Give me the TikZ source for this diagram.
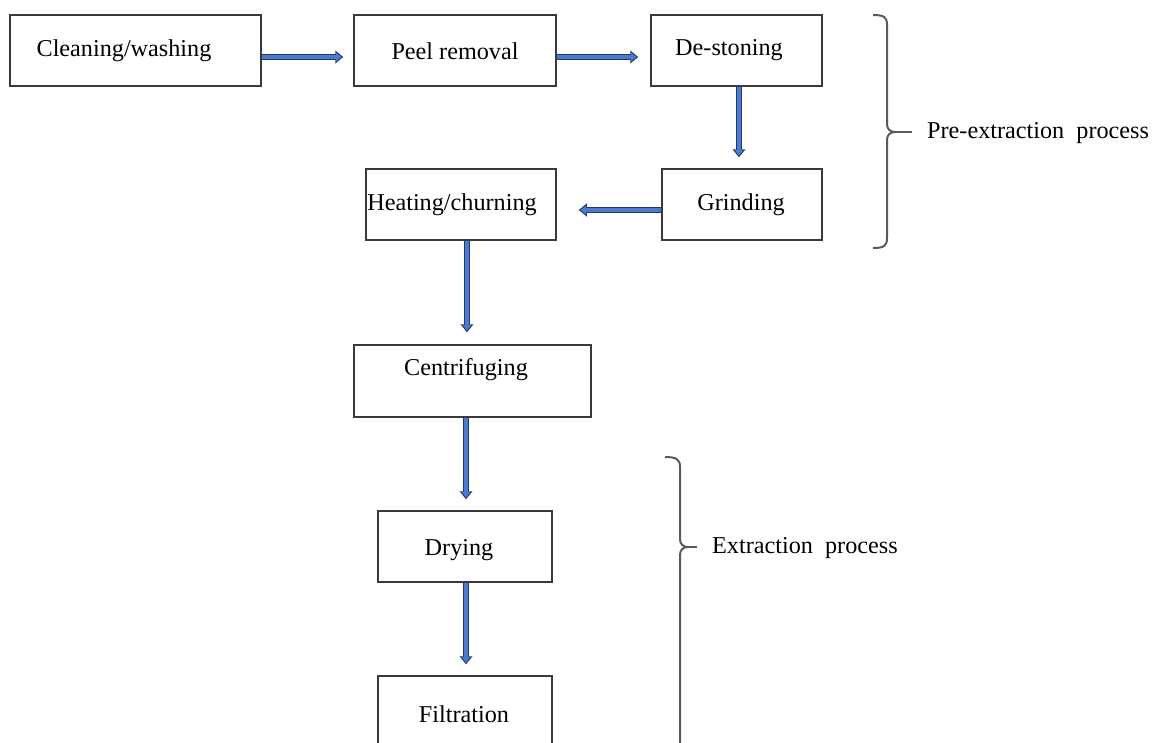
\documentclass[tikz,border=0pt]{standalone}
\usepackage{fontspec}
\setmainfont{Liberation Serif}
\usetikzlibrary{arrows.meta}
\definecolor{boxline}{HTML}{3A3A3A}
\definecolor{arrblue}{HTML}{4A7BD0}
\definecolor{arrdark}{HTML}{22386A}
\definecolor{bracecol}{HTML}{5A5A5A}
\newcommand\flowarr[2]{%
  \draw[line width=5.6pt, arrdark, -{Triangle[length=8pt,width=12.5pt]}] #1 -- #2;
  \draw[line width=3.4pt, arrblue, shorten >=1.6pt, -{Triangle[length=5.8pt,width=8.5pt]}] #1 -- #2;
}
\begin{document}
\begin{tikzpicture}[x=1pt,y=-1pt,
  box/.style={draw=boxline, line width=1.5pt, minimum height=71pt, inner sep=0pt, fill=white},
  txt/.style={inner sep=0pt, font=\fontsize{24.2}{29}\selectfont},
  bracepath/.style={draw=bracecol, line width=2pt}]
\useasboundingbox (0,0) rectangle (1153,742);
\clip (0,0) rectangle (1153,742);
\fill[white] (0,0) rectangle (1153,742);

% boxes
\node[box, minimum width=251pt] (clean) at (135.5,50.5) {};
\node[box, minimum width=202pt] (peel) at (455,50.5) {};
\node[box, minimum width=171pt] (destone) at (736.5,50.5) {};
\node[box, minimum width=190pt] (heat) at (461,204.5) {};
\node[box, minimum width=160pt] (grind) at (742,204.5) {};
\node[box, minimum width=237pt, minimum height=72pt] (centri) at (472.5,381) {};
\node[box, minimum width=174pt] (dry) at (465,546.5) {};
\node[box, minimum width=174pt, minimum height=72pt] (filt) at (465,712) {};

% texts
\node[txt] (tclean) at (124,51) {Cleaning/washing};
\node[txt] (tpeel) at (455,51) {Peel removal};
\node[txt] (tdestone) at (729,50) {De-stoning};
\node[txt] (theat) at (452,205) {Heating/churning};
\node[txt] (tgrind) at (741,205) {Grinding};
\node[txt] (tcentri) at (466,370) {Centrifuging};
\node[txt] (tdry) at (459,550) {Drying};
\node[txt] (tfilt) at (464,714) {Filtration};

% arrows
\flowarr{([yshift=-6.5pt]clean.east)}{([yshift=-6.5pt,xshift=-10pt]peel.west)}
\flowarr{([yshift=-6.5pt]peel.east)}{([yshift=-6.5pt,xshift=-12pt]destone.west)}
\flowarr{([xshift=2.5pt]destone.south)}{([xshift=-3pt,yshift=11pt]grind.north)}
\flowarr{([yshift=-5.5pt]grind.west)}{([yshift=-5.5pt,xshift=22pt]heat.east)}
\flowarr{([xshift=6pt]heat.south)}{([xshift=-5.5pt,yshift=12pt]centri.north)}
\flowarr{([xshift=-6.5pt]centri.south)}{([xshift=1pt,yshift=11pt]dry.north)}
\flowarr{([xshift=1pt]dry.south)}{([xshift=1pt,yshift=11pt]filt.north)}

% pre-extraction brace
\coordinate (pretip) at (895,132);
\draw[bracepath] (873,15) .. controls (884,15) and (887,17) .. (887,25) -- (887,124)
  .. controls (887,129) and (890,132) .. (pretip)
  .. controls (890,132) and (887,135) .. (887,140) -- (887,238)
  .. controls (887,246) and (884,248) .. (873,248);
\coordinate (predash) at (912,132);
\draw[bracepath] (pretip) -- (predash);
\node[txt, anchor=west] (tpre) at (927,133) {Pre-extraction\ \ process};

% extraction brace
\coordinate (extip) at (688,547);
\draw[bracepath] (665,457) .. controls (676,457) and (680,459) .. (680,467) -- (680,539)
  .. controls (680,544) and (683,547) .. (extip)
  .. controls (683,547) and (680,550) .. (680,555) -- (680,760);
\coordinate (exdash) at (697,547);
\draw[bracepath] (extip) -- (exdash);
\node[txt, anchor=west] (tex) at (712,548) {Extraction\ \ process};
\end{tikzpicture}
\end{document}
